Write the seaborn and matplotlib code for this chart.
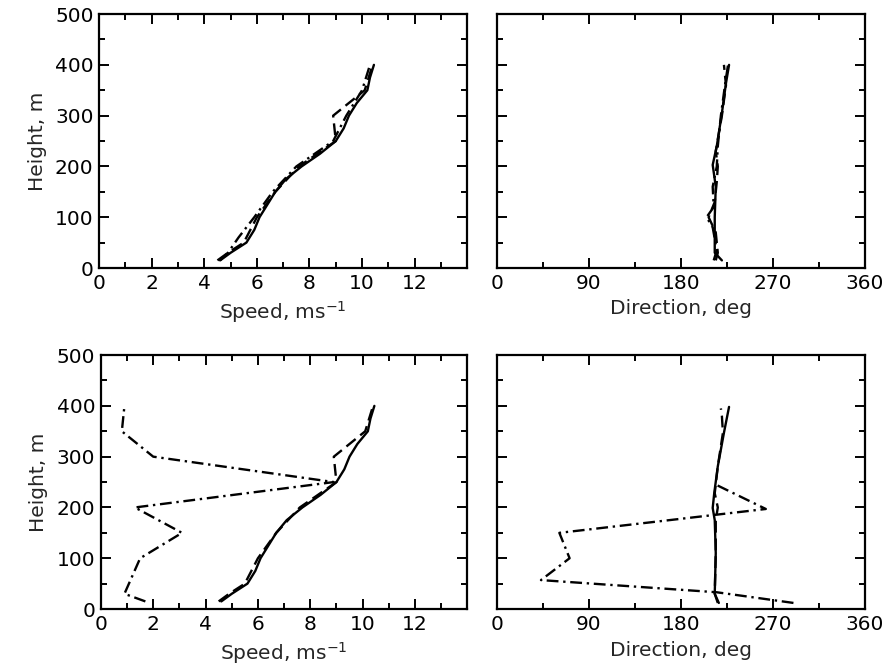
import numpy as np
import pandas as pd
import seaborn as sns
import matplotlib
matplotlib.use("Agg")
import matplotlib.pyplot as plt
from matplotlib.ticker import MultipleLocator

sns.set_theme(style="white")
plt.rcParams['font.family'] = ['DejaVu Sans']

# ---- data ----
# Top-left: speed profiles
spd_solid_h = [15, 30, 50, 75, 100, 125, 150, 175, 200, 225, 250, 275, 300, 325, 350, 375, 400]
spd_solid_v = [4.6, 5.0, 5.6, 5.9, 6.1, 6.4, 6.7, 7.1, 7.7, 8.4, 9.0, 9.3, 9.5, 9.8, 10.2, 10.3, 10.45]
spd_dash_h = [15, 30, 50, 100, 150, 200, 225, 250, 300, 350, 400]
spd_dash_v = [4.5, 4.9, 5.5, 6.0, 6.7, 7.6, 8.3, 9.0, 8.9, 10.1, 10.4]
spd_dd_top_h = [15, 30, 60, 100, 150, 200, 225, 250, 300, 350, 400]
spd_dd_top_v = [4.6, 4.9, 5.3, 5.9, 6.6, 7.5, 8.2, 8.9, 9.4, 10.0, 10.3]
# Bottom-left dash-dot speed
spd_dd_bot_h = [15, 30, 100, 150, 200, 250, 300, 350, 400]
spd_dd_bot_v = [1.7, 0.9, 1.5, 3.1, 1.3, 8.9, 2.0, 0.8, 0.9]

# Top-right: direction profiles
dir_top_solid_h = [15, 30, 100, 160, 203, 240, 305, 364, 400]
dir_top_solid_v = [220, 213, 213, 214, 211, 215, 220, 224, 227]
dir_top_dash_h = [15, 30, 70, 100, 130, 170, 200, 230, 300, 360, 400]
dir_top_dash_v = [214, 216, 214, 207, 213, 215, 216, 214, 220, 224, 222]
dir_top_dd_h = [15, 35, 80, 100, 120, 160, 200, 240, 300, 360, 400]
dir_top_dd_v = [212, 215, 211, 205, 212, 211, 215, 216, 219, 223, 226]

# Bottom-right: direction profiles
dir_bot_solid_h = [12, 30, 110, 175, 199, 228, 281, 347, 398]
dir_bot_solid_v = [217, 213, 214, 213, 211, 212.5, 216, 222, 227]
dir_bot_dash_h = [12, 30, 110, 175, 200, 228, 281, 347, 380, 395]
dir_bot_dash_v = [216, 213, 214, 214, 216, 213, 216, 221, 220, 219]
dir_bot_dd_h = [12, 33, 57, 100, 150, 197, 245]
dir_bot_dd_v = [290, 215, 43, 71, 61, 263, 214]

DASHED = (5, 2.5)
DASHDOT = (5, 2, 1, 2)

fig = plt.figure(figsize=(8.85, 6.7), dpi=100)
ax_tl = fig.add_axes([0.112, 0.600, 0.416, 0.379])
ax_tr = fig.add_axes([0.5616, 0.600, 0.4158, 0.379])
ax_bl = fig.add_axes([0.114, 0.091, 0.414, 0.379])
ax_br = fig.add_axes([0.5616, 0.091, 0.4158, 0.379])


def prof(ax, x, y, dashes=None, lw=1.7):
    df = pd.DataFrame({"x": x, "y": y})
    sns.lineplot(data=df, x="x", y="y", ax=ax, sort=False, estimator=None,
                 color="black", linewidth=lw)
    line = ax.lines[-1]
    if dashes is not None:
        line.set_dashes(dashes)


# top-left
prof(ax_tl, spd_solid_v, spd_solid_h)
prof(ax_tl, spd_dash_v, spd_dash_h, DASHED)
prof(ax_tl, spd_dd_top_v, spd_dd_top_h, DASHDOT)
# bottom-left
prof(ax_bl, spd_solid_v, spd_solid_h)
prof(ax_bl, spd_dash_v, spd_dash_h, DASHED)
prof(ax_bl, spd_dd_bot_v, spd_dd_bot_h, DASHDOT)
# top-right
prof(ax_tr, dir_top_solid_v, dir_top_solid_h)
prof(ax_tr, dir_top_dash_v, dir_top_dash_h, DASHED)
prof(ax_tr, dir_top_dd_v, dir_top_dd_h, DASHDOT)
# bottom-right
prof(ax_br, dir_bot_solid_v, dir_bot_solid_h)
prof(ax_br, dir_bot_dash_v, dir_bot_dash_h, DASHED)
prof(ax_br, dir_bot_dd_v, dir_bot_dd_h, DASHDOT)

speed_ticks = [0, 2, 4, 6, 8, 10, 12]
dir_ticks = [0, 90, 180, 270, 360]
height_ticks = [0, 100, 200, 300, 400, 500]

for ax in (ax_tl, ax_bl):
    ax.set_xlim(0, 14)
    ax.set_xticks(speed_ticks)
    ax.set_xticklabels([str(t) for t in speed_ticks])
    ax.xaxis.set_minor_locator(MultipleLocator(1))
    ax.set_xlabel("Speed, ms$^{-1}$", fontsize=14.5, labelpad=5)
    ax.set_ylabel("Height, m", fontsize=14.5, labelpad=6)
    ax.set_yticks(height_ticks)
    ax.set_yticklabels([str(t) for t in height_ticks])

for ax in (ax_tr, ax_br):
    ax.set_xlim(0, 360)
    ax.set_xticks(dir_ticks)
    ax.set_xticklabels([str(t) for t in dir_ticks])
    ax.xaxis.set_minor_locator(MultipleLocator(45))
    ax.set_xlabel("Direction, deg", fontsize=14.5, labelpad=5)
    ax.set_ylabel("")
    ax.set_yticks(height_ticks)
    ax.set_yticklabels([])

for ax in (ax_tl, ax_tr, ax_bl, ax_br):
    ax.set_ylim(0, 500)
    ax.yaxis.set_minor_locator(MultipleLocator(50))
    for s in ax.spines.values():
        s.set_visible(True)
        s.set_color("black")
        s.set_linewidth(1.6)
    ax.tick_params(which="both", direction="in", top=True, right=True,
                   bottom=True, left=True, colors="black", width=1.4)
    ax.tick_params(which="major", length=7, labelsize=14.5, pad=4)
    ax.tick_params(which="minor", length=4)
    ax.grid(False)

fig.savefig("out.png", dpi=100, facecolor="white")
